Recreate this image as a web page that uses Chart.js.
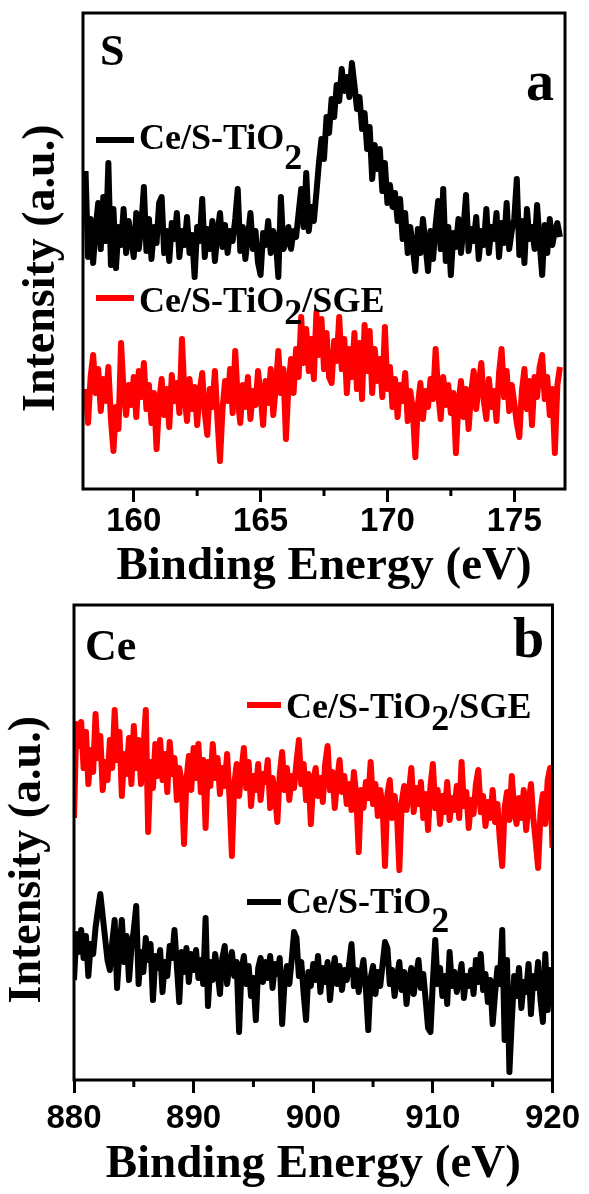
<!DOCTYPE html>
<html>
<head>
<meta charset="utf-8">
<script src="https://cdn.jsdelivr.net/npm/chart.js@4.4.0/dist/chart.umd.min.js"></script>
<style>
  html, body { margin: 0; padding: 0; background: #fff; }
  .panel { width: 589px; height: 597px; }
  canvas { display: block; }
</style>
</head>
<body>
<div class="panel"><canvas id="sChart" width="589" height="597"></canvas></div>
<div class="panel"><canvas id="ceChart" width="589" height="597"></canvas></div>
<script>
// S 2p region, 0.1 eV grid starting at 158.1 eV
const sEnergyStart = 158.1;
const sEnergyStep = 0.1;
const sTiO2 = [
    318, 232, 270, 226, 262, 286, 240, 292, 248, 326,
    224, 280, 221, 262, 244, 280, 236, 268, 250, 232,
    276, 240, 264, 302, 238, 270, 230, 262, 246, 286,
    292, 236, 258, 228, 266, 250, 276, 232, 258, 244,
    272, 236, 254, 212, 262, 248, 290, 232, 260, 240,
    268, 228, 256, 276, 242, 264, 236, 258, 248, 270,
    300, 238, 262, 230, 252, 276, 240, 258, 226, 214,
    256, 244, 268, 236, 258, 248, 212, 292, 240, 246,
    262, 240, 258, 252, 276, 300, 262, 316, 258, 282,
    268, 296, 326, 350, 330, 372, 356, 390, 372, 404,
    388, 420, 398, 412, 392, 426, 404, 380, 392, 360,
    376, 340, 362, 310, 344, 320, 340, 298, 326, 286,
    304, 282, 296, 268, 290, 250, 276, 236, 262, 242,
    218, 260, 236, 270, 244, 218, 258, 230, 264, 288,
    240, 300, 228, 262, 214, 256, 242, 270, 236, 262,
    294, 238, 260, 248, 272, 230, 258, 244, 280, 236,
    262, 250, 276, 232, 266, 246, 286, 240, 258, 270,
    310, 234, 268, 226, 280, 250, 262, 240, 284, 246,
    214, 264, 236, 270, 244, 258, 266, 252
];
const sTiO2SGE = [
    100, 66, 112, 134, 96, 120, 78, 110, 88, 122,
    70, 38, 82, 60, 146, 98, 74, 104, 84, 112,
    72, 118, 92, 126, 80, 104, 66, 96, 40, 86,
    110, 74, 100, 62, 114, 88, 106, 76, 150, 94,
    68, 110, 80, 102, 64, 98, 116, 76, 54, 100,
    82, 118, 70, 28, 80, 108, 88, 120, 76, 138,
    90, 66, 104, 82, 112, 70, 98, 84, 118, 94,
    64, 108, 86, 120, 74, 102, 138, 96, 120, 50,
    104, 130, 96, 140, 112, 172, 126, 160, 118, 150,
    110, 176, 134, 170, 120, 156, 112, 106, 148, 128,
    172, 120, 150, 96, 140, 112, 156, 100, 146, 90,
    164, 118, 158, 96, 140, 108, 130, 92, 162, 100,
    122, 82, 110, 72, 104, 88, 116, 68, 98, 80,
    32, 84, 106, 70, 98, 82, 110, 90, 140, 96,
    70, 112, 84, 104, 76, 96, 36, 86, 108, 72,
    100, 60, 96, 118, 80, 104, 126, 88, 70, 110,
    82, 98, 68, 116, 140, 92, 118, 78, 104, 86,
    66, 52, 98, 120, 80, 108, 64, 112, 92, 122,
    134, 90, 112, 74, 100, 36, 104, 122
];
const sTicks = [160, 165, 170, 175];
const sMinorTicks = [162.5, 167.5, 172.5];

// Ce 3d region, 0.2 eV grid starting at 880 eV
const ceEnergyStart = 880;
const ceEnergyStep = 0.2;
const ceTiO2SGE = [
    262, 356, 334, 358, 312, 348, 296, 330, 308, 366,
    322, 344, 290, 318, 300, 340, 312, 370, 320, 348,
    284, 326, 306, 342, 296, 354, 312, 340, 296, 330,
    370, 248, 318, 292, 336, 304, 340, 300, 326, 288,
    338, 306, 322, 280, 312, 298, 236, 300, 324, 290,
    332, 302, 336, 288, 320, 252, 318, 294, 336, 302,
    322, 286, 312, 294, 326, 282, 224, 296, 316, 284,
    310, 332, 292, 318, 274, 304, 290, 316, 280, 306,
    298, 320, 272, 302, 286, 258, 306, 328, 290, 312,
    280, 304, 292, 318, 340, 296, 316, 280, 306, 256,
    298, 312, 284, 302, 278, 316, 334, 290, 308, 272,
    300, 320, 288, 304, 276, 296, 270, 308, 284, 228,
    290, 272, 298, 282, 318, 276, 296, 264, 290, 274,
    214, 286, 300, 262, 284, 266, 210, 278, 294, 270,
    288, 312, 268, 292, 276, 298, 262, 286, 250, 294,
    316, 272, 290, 256, 284, 268, 298, 260, 282, 270,
    294, 262, 318, 274, 288, 252, 280, 266, 296, 310,
    268, 284, 254, 278, 262, 290, 258, 276, 240, 214,
    272, 288, 260, 304, 270, 256, 282, 262, 290, 250,
    276, 296, 262, 238, 212, 268, 286, 256, 300, 312,
    232
];
const ceTiO2 = [
    100, 146, 128, 150, 122, 144, 104, 136, 126, 152,
    170, 186, 164, 142, 120, 110, 138, 160, 92, 130,
    160, 118, 144, 100, 132, 150, 174, 96, 128, 108,
    142, 120, 136, 80, 124, 112, 130, 88, 118, 104,
    134, 122, 150, 114, 78, 128, 108, 132, 98, 126,
    110, 130, 102, 120, 96, 162, 74, 118, 100, 126,
    108, 86, 122, 134, 96, 116, 128, 104, 118, 48,
    110, 124, 96, 114, 84, 102, 60, 112, 122, 98,
    118, 102, 124, 92, 116, 106, 122, 56, 98, 114,
    96, 120, 148, 142, 104, 118, 86, 60, 108, 94,
    116, 100, 124, 88, 112, 98, 118, 80, 106, 122,
    96, 114, 90, 110, 100, 116, 136, 94, 110, 88,
    106, 120, 92, 50, 102, 114, 86, 108, 94, 116,
    138, 132, 96, 110, 84, 102, 118, 90, 108, 76,
    100, 112, 86, 104, 120, 92, 106, 80, 52, 48,
    98, 140, 96, 112, 84, 104, 76, 128, 94, 108,
    88, 100, 116, 82, 104, 94, 110, 86, 120, 98,
    126, 90, 106, 78, 100, 56, 86, 112, 96, 150,
    40, 120, 8, 60, 104, 84, 112, 72, 98, 88,
    116, 66, 104, 92, 118, 80, 58, 126, 70, 110,
    96
];
const ceTicks = [880, 890, 900, 910, 920];
const ceMinorTicks = [885, 895, 905, 915];

const SERIF = '"Liberation Serif", "Times New Roman", serif';
const SANS = '"Liberation Sans", Arial, sans-serif';

const toPoints = (vals, start, step) =>
    vals.map((y, i) => ({ x: Math.round((start + i * step) * 100) / 100, y }));

// box, minor ticks, panel letters and in-plot legend
const decorPlugin = {
    id: 'decor',
    afterDatasetsDraw(chart, args, opts) {
        const { ctx, chartArea: a } = chart;
        const xs = chart.scales.x;
        ctx.save();
        ctx.strokeStyle = '#000';
        ctx.lineWidth = 3;
        ctx.strokeRect(a.left, a.top, a.right - a.left, a.bottom - a.top);

        ctx.beginPath();
        for (const v of opts.minor) {
            const px = xs.getPixelForValue(v);
            ctx.moveTo(px, a.bottom);
            ctx.lineTo(px, a.bottom + 7);
        }
        ctx.stroke();

        ctx.fillStyle = '#000';
        ctx.textBaseline = 'alphabetic';
        for (const t of opts.letters) {
            ctx.font = `bold ${t.size}px ${SERIF}`;
            ctx.fillText(t.text, a.left + t.dx, a.top + t.dy);
        }

        for (const item of opts.legend) {
            const ds = chart.data.datasets[item.dataset];
            const x0 = a.left + item.dx;
            const y0 = a.top + item.dy;
            ctx.strokeStyle = ds.borderColor;
            ctx.lineWidth = 6;
            ctx.beginPath();
            ctx.moveTo(x0, y0);
            ctx.lineTo(x0 + item.len, y0);
            ctx.stroke();

            ctx.fillStyle = '#000';
            ctx.font = `bold 36px ${SERIF}`;
            let tx = x0 + item.len + 5;
            const parts = ds.label.split('₂');
            parts.forEach((p, i) => {
                ctx.fillText(p, tx, y0 + item.base);
                tx += ctx.measureText(p).width;
                if (i < parts.length - 1) {
                    ctx.fillText('2', tx, y0 + item.base + item.sub);
                    tx += ctx.measureText('2').width;
                }
            });
        }
        ctx.restore();
    }
};

function makePanel(id, cfg) {
    return new Chart(document.getElementById(id), {
        type: 'line',
        data: {
            datasets: cfg.series.map(s => ({
                label: s.label,
                data: s.data,
                borderColor: s.color,
                borderWidth: 6,
                borderJoinStyle: 'round',
                pointRadius: 0,
                tension: 0,
                fill: false
            }))
        },
        options: {
            responsive: false,
            animation: false,
            layout: { padding: cfg.padding },
            plugins: {
                legend: { display: false },
                tooltip: { enabled: false },
                decor: cfg.decor
            },
            scales: {
                x: {
                    type: 'linear',
                    min: cfg.xMin,
                    max: cfg.xMax,
                    afterBuildTicks: scale => { scale.ticks = cfg.ticks.map(v => ({ value: v })); },
                    afterFit: scale => { scale.height = cfg.xHeight; },
                    border: { display: false },
                    grid: {
                        drawOnChartArea: false,
                        drawTicks: true,
                        tickLength: 13,
                        tickWidth: 3,
                        tickColor: '#000'
                    },
                    ticks: {
                        color: '#000',
                        padding: cfg.tickPad,
                        maxRotation: 0,
                        font: { family: SANS, weight: 'bold', size: 33, lineHeight: 1 }
                    },
                    title: {
                        display: true,
                        text: 'Binding Energy (eV)',
                        color: '#000',
                        padding: { top: 0, bottom: cfg.xTitlePad },
                        font: { family: SERIF, weight: 'bold', size: 47, lineHeight: 1 }
                    }
                },
                y: {
                    min: 0,
                    max: cfg.yMax,
                    afterFit: scale => { scale.width = cfg.yWidth; },
                    border: { display: false },
                    grid: { display: false },
                    ticks: { display: false },
                    title: {
                        display: true,
                        text: 'Intensity (a.u.)\u00a0\u00a0\u00a0',
                        color: '#000',
                        padding: { top: cfg.yTitlePad, bottom: 0 },
                        font: { family: SERIF, weight: 'bold', size: 46, lineHeight: 1 }
                    }
                }
            }
        },
        plugins: [decorPlugin]
    });
}

makePanel('sChart', {
    series: [
        { label: 'Ce/S-TiO₂', data: toPoints(sTiO2, sEnergyStart, sEnergyStep), color: '#000000' },
        { label: 'Ce/S-TiO₂/SGE', data: toPoints(sTiO2SGE, sEnergyStart, sEnergyStep), color: '#ff0000' }
    ],
    xMin: 158, xMax: 177, yMax: 476,
    ticks: sTicks,
    padding: { top: 13, right: 24, left: 0, bottom: 0 },
    xHeight: 108, yWidth: 83,
    tickPad: 3, xTitlePad: 7, yTitlePad: 19,
    decor: {
        minor: sMinorTicks,
        letters: [
            { text: 'S', size: 44, dx: 17, dy: 52 },
            { text: 'a', size: 56, dx: 443, dy: 87 }
        ],
        legend: [
            { dataset: 0, dx: 13, dy: 127, len: 38, base: 9, sub: 20 },
            { dataset: 1, dx: 13, dy: 285, len: 38, base: 14, sub: 12 }
        ]
    }
});

makePanel('ceChart', {
    series: [
        { label: 'Ce/S-TiO₂', data: toPoints(ceTiO2, ceEnergyStart, ceEnergyStep), color: '#000000' },
        { label: 'Ce/S-TiO₂/SGE', data: toPoints(ceTiO2SGE, ceEnergyStart, ceEnergyStep), color: '#ff0000' }
    ],
    xMin: 880, xMax: 920, yMax: 475,
    ticks: ceTicks,
    padding: { top: 8, right: 34, left: 0, bottom: 0 },
    xHeight: 114, yWidth: 74,
    tickPad: 9, xTitlePad: 6, yTitlePad: 5,
    decor: {
        minor: ceMinorTicks,
        letters: [
            { text: 'Ce', size: 44, dx: 11, dy: 55 },
            { text: 'b', size: 56, dx: 439, dy: 52 }
        ],
        legend: [
            { dataset: 1, dx: 173, dy: 100, len: 34, base: 13, sub: 12 },
            { dataset: 0, dx: 173, dy: 297, len: 34, base: 11, sub: 19 }
        ]
    }
});
</script>
</body>
</html>
